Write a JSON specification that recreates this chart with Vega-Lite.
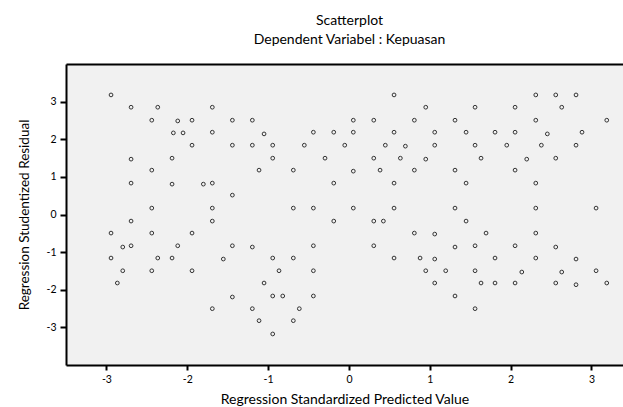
{
  "$schema": "https://vega.github.io/schema/vega-lite/v6.json",
  "autosize": {"type": "none"},
  "padding": {"left": 66, "top": 64, "right": 0, "bottom": 42},
  "width": 557,
  "height": 301,
  "background": "white",
  "config": {"view": {"fill": "#f1f1f1", "stroke": null}, "font": "Lato"},
  "title": {
    "text": "Scatterplot",
    "subtitle": "Dependent Variabel : Kepuasan",
    "fontSize": 14,
    "fontWeight": "normal",
    "subtitleFontSize": 14,
    "color": "#000000",
    "subtitleColor": "#000000",
    "font": "Lato",
    "subtitleFont": "Lato",
    "anchor": "middle",
    "offset": 17,
    "dx": 5,
    "subtitlePadding": 5
  },
  "data": {
    "values": [
      {"pred": -2.943, "resid": 3.178}, {"pred": -2.695, "resid": 2.851}, {"pred": -2.365, "resid": 2.851},
      {"pred": -2.439, "resid": 2.506}, {"pred": -2.118, "resid": 2.487}, {"pred": -1.941, "resid": 2.506},
      {"pred": -2.172, "resid": 2.169}, {"pred": -2.052, "resid": 2.169}, {"pred": -1.941, "resid": 1.842},
      {"pred": -2.695, "resid": 1.471}, {"pred": -2.188, "resid": 1.497}, {"pred": -2.439, "resid": 1.179},
      {"pred": -2.695, "resid": 0.834}, {"pred": -2.188, "resid": 0.807}, {"pred": -1.801, "resid": 0.807},
      {"pred": -2.439, "resid": 0.170}, {"pred": -2.695, "resid": -0.175}, {"pred": -2.943, "resid": -0.494},
      {"pred": -2.439, "resid": -0.494}, {"pred": -1.941, "resid": -0.494}, {"pred": -2.798, "resid": -0.865},
      {"pred": -2.695, "resid": -0.831}, {"pred": -2.118, "resid": -0.831}, {"pred": -2.943, "resid": -1.157},
      {"pred": -2.365, "resid": -1.157}, {"pred": -2.188, "resid": -1.157}, {"pred": -2.798, "resid": -1.495},
      {"pred": -2.439, "resid": -1.495}, {"pred": -1.941, "resid": -1.495}, {"pred": -2.865, "resid": -1.821},
      {"pred": -1.690, "resid": 2.851}, {"pred": -1.442, "resid": 2.506}, {"pred": -1.195, "resid": 2.506},
      {"pred": -1.690, "resid": 2.187}, {"pred": -1.050, "resid": 2.142}, {"pred": -0.440, "resid": 2.187},
      {"pred": -0.188, "resid": 2.187}, {"pred": -1.442, "resid": 1.842}, {"pred": -1.195, "resid": 1.842},
      {"pred": -0.943, "resid": 1.842}, {"pred": -0.552, "resid": 1.842}, {"pred": -0.943, "resid": 1.497},
      {"pred": -0.296, "resid": 1.497}, {"pred": -1.112, "resid": 1.179}, {"pred": -0.688, "resid": 1.179},
      {"pred": -1.690, "resid": 0.834}, {"pred": -0.188, "resid": 0.834}, {"pred": -1.442, "resid": 0.515},
      {"pred": -1.690, "resid": 0.170}, {"pred": -0.688, "resid": 0.170}, {"pred": -0.440, "resid": 0.170},
      {"pred": -1.690, "resid": -0.175}, {"pred": -0.188, "resid": -0.175}, {"pred": -1.442, "resid": -0.831},
      {"pred": -1.195, "resid": -0.865}, {"pred": -0.440, "resid": -0.831}, {"pred": -1.554, "resid": -1.184},
      {"pred": -0.943, "resid": -1.157}, {"pred": -0.688, "resid": -1.157}, {"pred": -0.865, "resid": -1.495},
      {"pred": -0.440, "resid": -1.495}, {"pred": -1.050, "resid": -1.821}, {"pred": -1.442, "resid": -2.193},
      {"pred": -0.943, "resid": -2.166}, {"pred": -0.819, "resid": -2.166}, {"pred": -0.440, "resid": -2.166},
      {"pred": -1.690, "resid": -2.503}, {"pred": -1.195, "resid": -2.503}, {"pred": -0.614, "resid": -2.503},
      {"pred": -1.112, "resid": -2.822}, {"pred": -0.688, "resid": -2.822}, {"pred": -0.943, "resid": -3.175},
      {"pred": 0.558, "resid": 3.178}, {"pred": 0.950, "resid": 2.851}, {"pred": 1.560, "resid": 2.851},
      {"pred": 0.054, "resid": 2.506}, {"pred": 0.307, "resid": 2.506}, {"pred": 0.809, "resid": 2.506},
      {"pred": 1.312, "resid": 2.506}, {"pred": 0.054, "resid": 2.187}, {"pred": 0.558, "resid": 2.187},
      {"pred": 1.061, "resid": 2.187}, {"pred": 1.449, "resid": 2.187}, {"pred": -0.052, "resid": 1.842},
      {"pred": 0.450, "resid": 1.842}, {"pred": 0.698, "resid": 1.816}, {"pred": 1.061, "resid": 1.842},
      {"pred": 1.560, "resid": 1.842}, {"pred": 0.307, "resid": 1.497}, {"pred": 0.636, "resid": 1.497},
      {"pred": 0.950, "resid": 1.471}, {"pred": 1.634, "resid": 1.497}, {"pred": 0.054, "resid": 1.152},
      {"pred": 0.385, "resid": 1.179}, {"pred": 0.809, "resid": 1.179}, {"pred": 1.312, "resid": 1.179},
      {"pred": 0.558, "resid": 0.834}, {"pred": 1.449, "resid": 0.834}, {"pred": 0.054, "resid": 0.170},
      {"pred": 0.558, "resid": 0.170}, {"pred": 1.312, "resid": 0.170}, {"pred": 0.307, "resid": -0.175},
      {"pred": 0.426, "resid": -0.175}, {"pred": 1.449, "resid": -0.175}, {"pred": 0.809, "resid": -0.494},
      {"pred": 1.061, "resid": -0.520}, {"pred": 0.307, "resid": -0.831}, {"pred": 1.312, "resid": -0.865},
      {"pred": 1.560, "resid": -0.831}, {"pred": 0.558, "resid": -1.157}, {"pred": 0.880, "resid": -1.157},
      {"pred": 1.061, "resid": -1.184}, {"pred": 0.950, "resid": -1.495}, {"pred": 1.197, "resid": -1.495},
      {"pred": 1.560, "resid": -1.495}, {"pred": 1.061, "resid": -1.821}, {"pred": 1.634, "resid": -1.821},
      {"pred": 1.312, "resid": -2.166}, {"pred": 1.560, "resid": -2.503},
      {"pred": 2.311, "resid": 3.178}, {"pred": 2.558, "resid": 3.178}, {"pred": 2.809, "resid": 3.178},
      {"pred": 2.055, "resid": 2.851}, {"pred": 2.632, "resid": 2.851}, {"pred": 2.311, "resid": 2.506},
      {"pred": 3.189, "resid": 2.506}, {"pred": 1.807, "resid": 2.187}, {"pred": 2.055, "resid": 2.187},
      {"pred": 2.454, "resid": 2.142}, {"pred": 2.883, "resid": 2.187}, {"pred": 1.952, "resid": 1.842},
      {"pred": 2.380, "resid": 1.842}, {"pred": 2.809, "resid": 1.842}, {"pred": 2.199, "resid": 1.471},
      {"pred": 2.558, "resid": 1.497}, {"pred": 2.055, "resid": 1.179}, {"pred": 2.311, "resid": 0.834},
      {"pred": 2.311, "resid": 0.170}, {"pred": 3.057, "resid": 0.170}, {"pred": 1.696, "resid": -0.494},
      {"pred": 2.311, "resid": -0.494}, {"pred": 2.055, "resid": -0.831}, {"pred": 2.558, "resid": -0.865},
      {"pred": 1.807, "resid": -1.157}, {"pred": 2.311, "resid": -1.157}, {"pred": 2.809, "resid": -1.184},
      {"pred": 2.138, "resid": -1.529}, {"pred": 2.632, "resid": -1.529}, {"pred": 3.057, "resid": -1.495},
      {"pred": 1.807, "resid": -1.821}, {"pred": 2.055, "resid": -1.821}, {"pred": 2.558, "resid": -1.821},
      {"pred": 2.809, "resid": -1.866}, {"pred": 3.189, "resid": -1.821}
    ]
  },
  "layer": [
    {
      "mark": {"type": "point", "shape": "circle", "filled": false, "size": 14, "strokeWidth": 1, "color": "#333333", "opacity": 1},
      "encoding": {
        "x": {
          "field": "pred",
          "type": "quantitative",
          "scale": {"domain": [-3.5, 3.39], "nice": false, "zero": false},
          "axis": {
            "orient": "bottom",
            "values": [-3, -2, -1, 0, 1, 2, 3],
            "labelExpr": "'' + datum.value",
            "grid": false,
            "title": "Regression Standardized Predicted Value",
            "titleFont": "Lato",
            "titleFontSize": 14,
            "titleFontWeight": "normal",
            "titleColor": "#000000",
            "titlePadding": 8,
            "labelFont": "Lato",
            "labelFontSize": 10.5,
            "labelColor": "#000000",
            "labelPadding": 4,
            "tickSize": 5,
            "tickWidth": 2,
            "tickColor": "#000000",
            "domainColor": "#000000",
            "domainWidth": 2
          }
        },
        "y": {
          "field": "resid",
          "type": "quantitative",
          "scale": {"domain": [-4, 4], "nice": false, "zero": false},
          "axis": {
            "orient": "left",
            "values": [-3, -2, -1, 0, 1, 2, 3],
            "labelExpr": "'' + datum.value",
            "grid": false,
            "title": "Regression Studentized Residual",
            "titleFont": "Lato",
            "titleFontSize": 13.5,
            "titleFontWeight": "normal",
            "titleColor": "#000000",
            "titlePadding": 15,
            "labelFont": "Lato",
            "labelFontSize": 10.5,
            "labelColor": "#000000",
            "labelPadding": 4,
            "tickSize": 6,
            "tickWidth": 2,
            "tickColor": "#000000",
            "domainColor": "#000000",
            "domainWidth": 2
          }
        }
      }
    },
    {
      "mark": {"type": "point", "opacity": 0},
      "encoding": {
        "x": {
          "field": "pred",
          "type": "quantitative",
          "axis": {"orient": "top", "labels": false, "ticks": false, "title": null, "grid": false, "domain": true, "domainColor": "#000000", "domainWidth": 2}
        },
        "y": {"field": "resid", "type": "quantitative"}
      }
    }
  ],
  "resolve": {"axis": {"x": "independent"}}
}
